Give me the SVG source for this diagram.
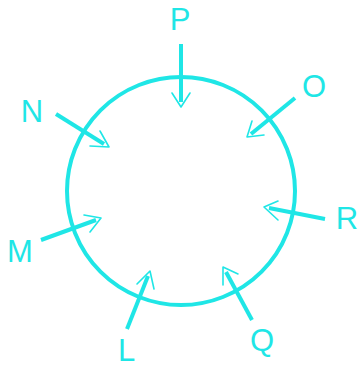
<svg xmlns="http://www.w3.org/2000/svg" width="361" height="367" viewBox="0 0 361 367">
<style>
.c{fill:none;stroke:#1fe6e6;stroke-width:4}
.s{stroke:#1fe6e6;stroke-width:4;stroke-linecap:butt}
.h{fill:none;stroke:#1fe6e6;stroke-width:1.6;stroke-linecap:round;stroke-linejoin:round}
.t{font-family:"Liberation Sans",Arial,sans-serif;font-size:31px;fill:#1fe6e6}
</style>
<rect width="361" height="367" fill="#ffffff"/>
<g id="circle"><circle class="c" cx="181" cy="191" r="114"/></g>
<g id="connectors">
<line class="s" x1="181" y1="44" x2="181" y2="102"/>
<polyline class="h" points="172,93 181,107 190,93"/>
<line class="s" x1="56" y1="114" x2="104" y2="144"/>
<polyline class="h" points="90,146 109,147 100,131"/>
<line class="s" x1="295" y1="98" x2="251" y2="134"/>
<polyline class="h" points="264,135 247,137 252,121"/>
<line class="s" x1="325" y1="219" x2="269" y2="208"/>
<polyline class="h" points="278,201 264,207 278,220"/>
<line class="s" x1="41" y1="240" x2="96" y2="220"/>
<polyline class="h" points="84,215 101,218 90,232"/>
<line class="s" x1="127" y1="329" x2="148" y2="276"/>
<polyline class="h" points="137,284 150,271 154,289"/>
<line class="s" x1="252" y1="320" x2="226" y2="272"/>
<polyline class="h" points="238,274 223,267 223,285"/>
</g>
<g id="P"><text class="t" x="180" y="30" text-anchor="middle">P</text></g>
<g id="N"><text class="t" x="32" y="122" text-anchor="middle">N</text></g>
<g id="O"><text class="t" x="314" y="97" text-anchor="middle">O</text></g>
<g id="R"><text class="t" x="347" y="229" text-anchor="middle">R</text></g>
<g id="M"><text class="t" x="20" y="262" text-anchor="middle">M</text></g>
<g id="L"><text class="t" x="118" y="361">L</text></g>
<g id="Q"><text class="t" x="262" y="351" text-anchor="middle">Q</text></g>
</svg>
